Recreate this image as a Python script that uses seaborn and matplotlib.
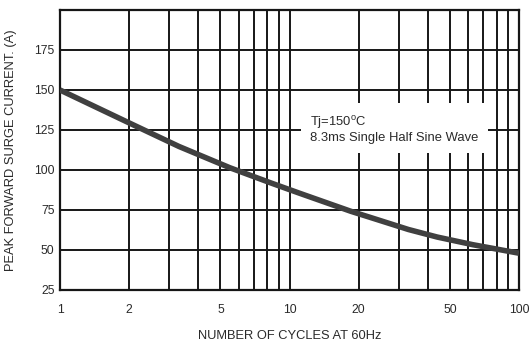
import matplotlib
matplotlib.use("Agg")
import matplotlib.pyplot as plt
import matplotlib.ticker as mticker
import seaborn as sns
import pandas as pd

# values
cycles = [1, 2.1, 3.3, 5.5, 8.3, 11, 18.5, 22, 33, 44, 63, 100]
surge_current = [150, 128, 114.7, 101.4, 91.9, 85.6, 74.2, 70.8, 62.8, 58.1, 53.3, 48]
x_ticks = [1, 2, 5, 10, 20, 50, 100]
y_ticks = [25, 50, 75, 100, 125, 150, 175]

df = pd.DataFrame({"cycles": cycles, "current": surge_current})

sns.set_style("white")
plt.rcParams["font.family"] = ["Liberation Sans", "DejaVu Sans"]

fig = plt.figure(figsize=(5.3, 3.42), dpi=100)
ax = fig.add_axes([60 / 530, 1 - 290 / 342, 459 / 530, 280 / 342])

sns.lineplot(data=df, x="cycles", y="current", ax=ax, color="#404040",
             linewidth=4.0, solid_capstyle="butt", solid_joinstyle="round", zorder=4)

ax.set_xscale("log")
ax.set_xlim(1, 100)
ax.set_ylim(25, 200)
ax.set_xticks(x_ticks)
ax.xaxis.set_major_formatter(mticker.FuncFormatter(lambda v, p: f"{v:g}"))
ax.xaxis.set_minor_locator(mticker.LogLocator(base=10, subs=range(2, 10)))
ax.xaxis.set_minor_formatter(mticker.NullFormatter())
ax.set_yticks(y_ticks)

ax.grid(True, which="both", axis="x", color="#161616", linewidth=1.4)
ax.grid(True, which="major", axis="y", color="#161616", linewidth=1.4)
for s in ax.spines.values():
    s.set_color("#161616")
    s.set_linewidth(1.6)
ax.tick_params(which="both", length=0, labelsize=8.8, colors="#2a2a2a")
ax.tick_params(axis="x", pad=10)
ax.tick_params(axis="y", pad=4)

ax.set_xlabel("NUMBER OF CYCLES AT 60Hz", fontsize=9.3, color="#2a2a2a", labelpad=10)
ax.set_ylabel("PEAK FORWARD SURGE CURRENT. (A)", fontsize=9.3, color="#2a2a2a", labelpad=12)

ax.text(0.545, 0.576, "Tj=150$^{\\mathregular{o}}$C\n8.3ms Single Half Sine Wave",
        transform=ax.transAxes, fontsize=9.4, color="#2a2a2a", va="center", ha="left",
        linespacing=1.12, zorder=5,
        bbox=dict(facecolor="white", edgecolor="none", pad=6.5))

fig.savefig("out.png", dpi=100)
